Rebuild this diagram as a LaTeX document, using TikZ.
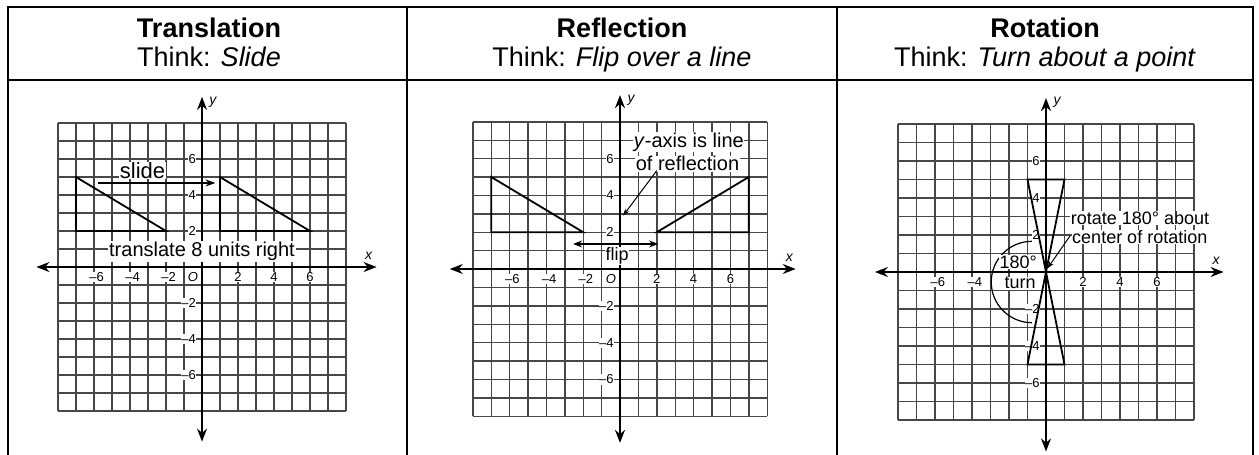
\documentclass[tikz,border=0pt]{standalone}
\usepackage{fontspec}
\setmainfont{Liberation Sans}
\usetikzlibrary{arrows.meta}
\tikzset{
  tbl/.style={line width=2.5pt, line cap=rect},
  gridln/.style={draw=black!72, line width=1.4pt},
  axis/.style={line width=1.8pt, {Stealth[length=13pt,width=10pt]}-{Stealth[length=13pt,width=10pt]}},
  tri/.style={line width=1.8pt, line join=miter},
  tick/.style={font=\fontsize{13}{14}\selectfont, fill=white, inner sep=0.6pt},
  note/.style={font=\fontsize{20}{22}\selectfont, fill=white, inner sep=1pt},
  head/.style={font=\fontsize{27}{30}\selectfont\bfseries, anchor=base},
  think/.style={font=\fontsize{27}{30}\selectfont, anchor=base},
  axlbl/.style={font=\fontsize{14}{15}\selectfont\itshape, inner sep=0pt},
  pointer/.style={line width=1pt, -{Stealth[length=7pt,width=5pt]}},
  dbl/.style={line width=1.5pt, {Stealth[length=9pt,width=7pt]}-{Stealth[length=9pt,width=7pt]}},
  slidearrow/.style={line width=1.5pt, -{Stealth[length=10pt,width=7pt]}},
  turnarc/.style={line width=1.2pt},
}
\newcommand{\unitgrid}{\foreach \k in {-8,...,8} {\draw[gridln] (\k,-8) -- (\k,8); \draw[gridln] (-8,\k) -- (8,\k);}}
\begin{document}
\begin{tikzpicture}[x=1pt, y=-1pt]
\useasboundingbox (0,0) rectangle (1259,455);
\fill[white] (0,0) rectangle (1259,455);
% table
\draw[tbl] (8,455) -- (8,7) -- (1253,7) -- (1253,455);
\draw[tbl] (8,80) -- (1253,80);
\draw[tbl] (407,7) -- (407,455);
\draw[tbl] (837,7) -- (837,455);
% headers
\node[head] (h1) at (209,37) {Translation};
\node[think] (t1) at (209,66) {Think: \textit{Slide}};
\node[head] (h2) at (622,37) {Reflection};
\node[think] (t2) at (622,66) {Think: \textit{Flip over a line}};
\node[head] (h3) at (1045,37) {Rotation};
\node[think] (t3) at (1045,66) {Think: \textit{Turn about a point}};

% ---------- Panel 1 ----------
\begin{scope}[shift={(202,267)}, x=18pt, y=18pt]
  \unitgrid
  \coordinate (axl1) at (-9.2,0); \coordinate (axr1) at (9.7,0);
  \coordinate (ayt1) at (0,9.45); \coordinate (ayb1) at (0,-9.7);
  \draw[axis] (axl1) -- (axr1);
  \draw[axis] (ayb1) -- (ayt1);
  \node[axlbl] (xa1) at (9.25,0.6) {x};
  \node[axlbl] (ya1) at (0.6,9.15) {y};
  \foreach \v/\t/\n in {-6/–6/a,-4/–4/b,-2/–2/c} \node[tick] (tx1\n) at (\v+0.15,-0.55) {\t};
  \foreach \v/\t/\n in {2/2/d,4/4/e,6/6/f} \node[tick] (tx1\n) at (\v,-0.55) {\t};
  \node[tick, font=\fontsize{13}{14}\selectfont\itshape] (o1) at (-0.5,-0.55) {O};
  \foreach \v/\t/\n in {6/6/a,4/4/b,2/2/c,-2/–2/d,-4/–4/e,-6/–6/f} \node[tick, anchor=east] (ty1\n) at (-0.3,\v) {\t};
  \draw[tri] (-7,5) -- (-7,2) -- (-2,2) -- cycle;
  \draw[tri] (1,5) -- (1,2) -- (6,2) -- cycle;
  \coordinate (sa) at (-5.8,4.67); \coordinate (sb) at (0.75,4.67);
  \draw[slidearrow] (sa) -- (sb);
  \node[note, font=\fontsize{22}{24}\selectfont, inner sep=0.5pt] (slide) at (-3.3,5.35) {slide};
  \node[note] (trans) at (0,0.85) {translate 8 units right};
\end{scope}

% ---------- Panel 2 ----------
\begin{scope}[shift={(620,269)}, x=18.4pt, y=18.4pt]
  \unitgrid
  \coordinate (axl2) at (-9.25,0); \coordinate (axr2) at (9.55,0);
  \coordinate (ayt2) at (0,9.45); \coordinate (ayb2) at (0,-9.45);
  \draw[axis] (axl2) -- (axr2);
  \draw[axis] (ayb2) -- (ayt2);
  \node[axlbl] (xa2) at (9.2,0.6) {x};
  \node[axlbl] (ya2) at (0.6,9.15) {y};
  \foreach \v/\t/\n in {-6/–6/a,-4/–4/b,-2/–2/c} \node[tick] (tx2\n) at (\v+0.15,-0.55) {\t};
  \foreach \v/\t/\n in {2/2/d,4/4/e,6/6/f} \node[tick] (tx2\n) at (\v,-0.55) {\t};
  \node[tick, font=\fontsize{13}{14}\selectfont\itshape] (o2) at (-0.5,-0.55) {O};
  \foreach \v/\t/\n in {6/6/a,4/4/b,2/2/c,-2/–2/d,-4/–4/e,-6/–6/f} \node[tick, anchor=east] (ty2\n) at (-0.3,\v) {\t};
  \draw[tri] (-7,5) -- (-7,2) -- (-2,2) -- cycle;
  \draw[tri] (7,5) -- (7,2) -- (2,2) -- cycle;
  \coordinate (fa) at (-2.55,1.36); \coordinate (fb) at (2.07,1.36);
  \draw[dbl] (fa) -- (fb);
  \node[note, font=\fontsize{18}{20}\selectfont, inner sep=0.5pt] (flip) at (-0.15,0.72) {flip};
  \node[note, anchor=west, inner sep=0.5pt] (yax) at (0.72,6.9) {\textit{y}-axis is line};
  \node[note, anchor=west, inner sep=0.5pt] (ofr) at (0.82,5.72) {of reflection};
  \coordinate (ra) at (2.0,5.35); \coordinate (rb) at (0.17,2.9);
  \draw[pointer] (ra) -- (rb);
\end{scope}

% ---------- Panel 3 ----------
\begin{scope}[shift={(1046,272)}, x=18.5pt, y=18.5pt]
  \unitgrid
  \coordinate (axl3) at (-9.25,0); \coordinate (axr3) at (9.6,0);
  \coordinate (ayt3) at (0,9.4); \coordinate (ayb3) at (0,-9.7);
  \draw[axis] (axl3) -- (axr3);
  \draw[axis] (ayb3) -- (ayt3);
  \node[axlbl] (xa3) at (9.2,0.6) {x};
  \node[axlbl] (ya3) at (0.6,9.15) {y};
  \foreach \v/\t/\n in {-6/–6/a,-4/–4/b} \node[tick] (tx3\n) at (\v+0.15,-0.55) {\t};
  \foreach \v/\t/\n in {2/2/d,4/4/e,6/6/f} \node[tick] (tx3\n) at (\v,-0.55) {\t};
  \foreach \v/\t/\n in {6/6/a,4/4/b,2/2/c,-2/–2/d,-4/–4/e,-6/–6/f} \node[tick, anchor=east] (ty3\n) at (-0.3,\v) {\t};
  \draw[turnarc] (-0.76,1.66) arc[start angle=90, end angle=270, radius=2.2];
  \node[note, font=\fontsize{18}{20}\selectfont, inner sep=0.5pt] (deg) at (-1.5,0.55) {180°};
  \node[note, font=\fontsize{18}{20}\selectfont, inner sep=0.5pt] (turn) at (-1.4,-0.6) {turn};
  \draw[tri] (0,0) -- (-1,5) -- (1,5) -- cycle;
  \draw[tri] (0,0) -- (-1,-5) -- (1,-5) -- cycle;
  \node[note, font=\fontsize{18}{20}\selectfont, anchor=west, inner sep=0.5pt] (rot1) at (1.3,2.9) {rotate 180° about};
  \node[note, font=\fontsize{18}{20}\selectfont, anchor=west, inner sep=0.5pt] (rot2) at (1.38,1.88) {center of rotation};
  \coordinate (ca) at (1.3,1.95); \coordinate (cb) at (0.08,0.2);
  \draw[pointer] (ca) -- (cb);
\end{scope}
\end{tikzpicture}
\end{document}
